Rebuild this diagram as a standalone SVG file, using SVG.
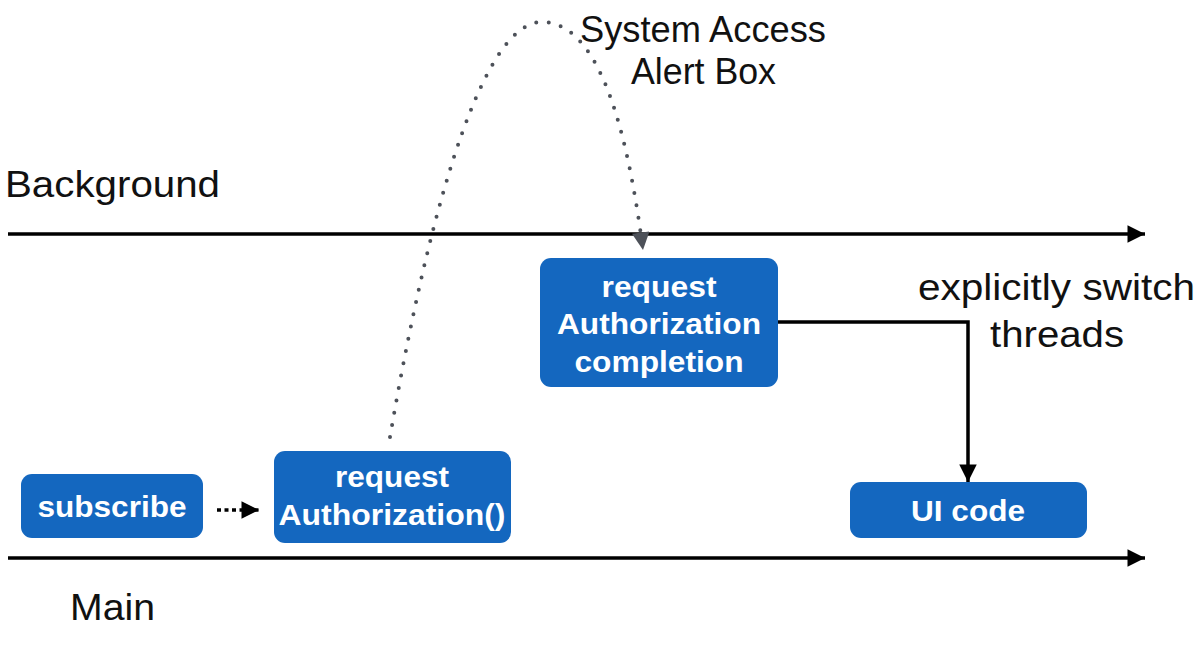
<svg xmlns="http://www.w3.org/2000/svg" width="1204" height="648" viewBox="0 0 1204 648">
<style>
.box{fill:#1467bf}
.bt{font-family:"Liberation Sans",Arial,sans-serif;font-weight:bold;font-size:29px;fill:#fff;text-anchor:middle}
.lt{font-family:"Liberation Sans",Arial,sans-serif;font-size:37px;fill:#111}
.ln{stroke:#000;stroke-width:3.5;fill:none}
</style>
<defs>
<marker id="ah" viewBox="0 0 10 10" refX="10" refY="5" markerWidth="5.5" markerHeight="5" markerUnits="strokeWidth" orient="auto"><path d="M0,0L10,5L0,10z" fill="#000"/></marker>
<marker id="ahg" viewBox="0 0 10 10" refX="10" refY="5" markerWidth="4.8" markerHeight="4.4" markerUnits="strokeWidth" orient="auto"><path d="M0,0L10,5L0,10z" fill="#4d5159"/></marker>
</defs>
<g id="timelines">
<line class="ln" x1="8" y1="234" x2="1145" y2="234" marker-end="url(#ah)"/>
<line class="ln" x1="8" y1="558" x2="1145" y2="558" marker-end="url(#ah)"/>
<text class="lt" x="5" y="197" textLength="215" lengthAdjust="spacingAndGlyphs">Background</text>
<text class="lt" x="70" y="620" textLength="85" lengthAdjust="spacingAndGlyphs">Main</text>
</g>
<g id="connectors">
<path d="M390,437 C422,250 476,22 542,22 C604,22 630,150 643,250" fill="none" stroke="#4d5159" stroke-width="4" stroke-linecap="round" stroke-dasharray="0 12.5" marker-end="url(#ahg)"/>
<line x1="217" y1="510" x2="259" y2="510" stroke="#000" stroke-width="3.5" stroke-dasharray="4 3.5" marker-end="url(#ah)"/>
<path class="ln" d="M778,322 H968 V482" marker-end="url(#ah)"/>
<text class="lt" x="580" y="42" textLength="246" lengthAdjust="spacingAndGlyphs">System Access</text>
<text class="lt" x="631" y="84" textLength="145" lengthAdjust="spacingAndGlyphs">Alert Box</text>
<text class="lt" x="918" y="300" textLength="277" lengthAdjust="spacingAndGlyphs">explicitly switch</text>
<text class="lt" x="990" y="347" textLength="134" lengthAdjust="spacingAndGlyphs">threads</text>
</g>
<g id="subscribe">
<rect class="box" x="21" y="474" width="182" height="64" rx="11"/>
<text class="bt" x="112" y="517" textLength="149" lengthAdjust="spacingAndGlyphs">subscribe</text>
</g>
<g id="requestAuthorization">
<rect class="box" x="274" y="451" width="237" height="92" rx="11"/>
<text class="bt" x="392" y="487" textLength="114" lengthAdjust="spacingAndGlyphs">request</text>
<text class="bt" x="392" y="525" textLength="227" lengthAdjust="spacingAndGlyphs">Authorization()</text>
</g>
<g id="completion">
<rect class="box" x="540" y="258" width="238" height="129" rx="11"/>
<text class="bt" x="659" y="297" textLength="115" lengthAdjust="spacingAndGlyphs">request</text>
<text class="bt" x="659" y="334" textLength="204" lengthAdjust="spacingAndGlyphs">Authorization</text>
<text class="bt" x="659" y="372" textLength="169" lengthAdjust="spacingAndGlyphs">completion</text>
</g>
<g id="uicode">
<rect class="box" x="850" y="482" width="237" height="56" rx="11"/>
<text class="bt" x="968" y="521" textLength="114" lengthAdjust="spacingAndGlyphs">UI code</text>
</g>
</svg>
